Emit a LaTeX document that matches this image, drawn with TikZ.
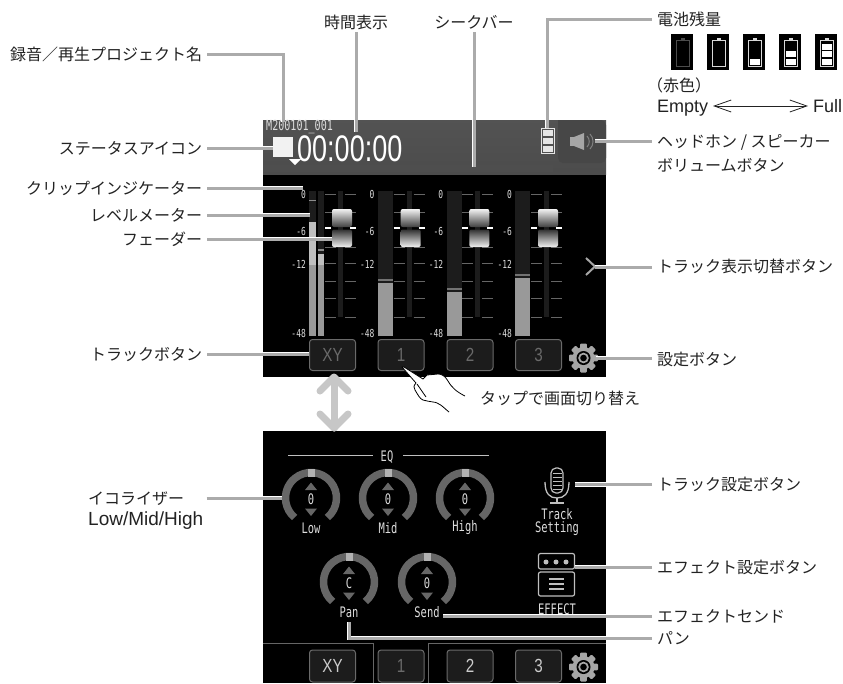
\documentclass[tikz,border=0pt]{standalone}
\usepackage{fontspec}
\setmainfont{Noto Sans CJK JP}
\newfontfamily\lcdfont[FakeStretch=0.72]{DejaVu Sans Mono}
\newfontfamily\timefont[FakeStretch=0.73]{Liberation Sans}
\newfontfamily\btnfont[FakeStretch=0.8]{Liberation Sans}
\newfontfamily\latinfont{Liberation Sans}
\usetikzlibrary{arrows.meta}
\definecolor{leadgray}{HTML}{ABABAB}
\definecolor{barcol}{HTML}{5C5C5C}
\definecolor{knobcol}{HTML}{666666}
\definecolor{meterbg}{HTML}{1C1C1C}
\definecolor{btnedge}{HTML}{6A6A6A}
\definecolor{lcdtext}{HTML}{DDDDDD}
\definecolor{labeltext}{HTML}{222222}
\begin{document}
\begin{tikzpicture}[x=1pt,y=-1pt,
    lbl/.style={inner xsep=5pt,inner ysep=2pt,outer sep=0pt,font=\fontsize{16}{24}\selectfont,
      text=labeltext,text height=14pt,text depth=2pt},
    leader/.style={draw=white,double=leadgray,double distance=3pt,line width=0.8pt},
    lcd/.style={inner sep=0pt,font=\lcdfont\fontsize{14.5}{15}\selectfont,text=lcdtext},
    db/.style={inner sep=0pt,anchor=east,font=\lcdfont\fontsize{11}{12}\selectfont,text=lcdtext},
    trackbtn/.style={draw=btnedge,fill=meterbg,rounded corners=3pt,line width=1pt,minimum width=46pt,
      minimum height=31pt,inner sep=0pt,font=\btnfont\fontsize{19}{20}\selectfont},
    scaletick/.style={draw=knobcol,line width=1pt}]
  \useasboundingbox (0,0) rectangle (843,683);

  %% upper screen
  \fill[black] (263,120) rectangle (606,377);
  \shade[top color=barcol!90!black,bottom color=barcol!110!white] (263,120) rectangle (606,174);
  \fill[barcol!85!black] (263,165) rectangle (553,172);
  \fill[black!72] (606,120) -- (558,120) -- (558,157) [rounded corners=5pt] -- (558,163) -- (606,163) -- cycle;

  \node[lcd,anchor=west,font=\lcdfont\fontsize{14}{15}\selectfont] (projname) at (266,126.5) {M200101\_001};
  \fill[white!95!black] (273,137) rectangle (293,157);
  \node[inner sep=0pt,anchor=west,text=white,font=\timefont\fontsize{37}{38}\selectfont] (timecode) at (297,148.5) {00:00:00};
  \fill[white] (289,159) -- (301,159) -- (295,165) -- cycle;

  %% battery in the bar
  \draw[white!90!black,line width=0.9pt] (541,128.5) rectangle (554,153);
  \fill[white!90!black] (542.5,130) rectangle (552.5,135.5);
  \fill[white!90!black] (542.5,137.5) rectangle (552.5,143.5);
  \fill[white!90!black] (542.5,145.5) rectangle (552.5,151.5);

  %% speaker
  \fill[black!35] (570,137) rectangle (574,146);
  \fill[black!35] (574,137) -- (584,133) -- (584,150) -- (574,146) -- cycle;
  \draw[black!50,line width=1pt] (587,136) .. controls (590,139) and (590,144) .. (587,147);
  \draw[black!50,line width=1pt] (590,134) .. controls (594,138) and (594,145) .. (590,149);

  %% meters
  \fill[meterbg] (309,191) rectangle (316,336);
  \fill[meterbg] (318,191) rectangle (324,336);
  \fill[black!25] (309,222) rectangle (316,265);
  \fill[black!40] (309,265) rectangle (316,336);
  \fill[black!45] (309,199.5) rectangle (316,201);
  \fill[black!25] (318,254) rectangle (324,265);
  \fill[black!40] (318,265) rectangle (324,336);
  \fill[black!45] (318,248.5) rectangle (324,250.5);
  \foreach \mx/\peak in {378/280,447/289,515/275}{
    \fill[meterbg] (\mx,191) rectangle (\mx+15,336);
    \fill[black!40] (\mx,\peak+3) rectangle (\mx+15,336);
    \fill[black!55] (\mx,\peak-1) rectangle (\mx+15,\peak+1);
  }

  %% faders and scales
  \foreach \tn/\tx in {0/0,1/68.7,2/137.3,3/206}{
    \begin{scope}[xshift=\tx pt]
      \fill[meterbg] (338,191) rectangle (343,317);
      \foreach \dy in {194,212,247,263.5,281,298,317}{
        \draw[scaletick] (325,\dy) -- (336,\dy);
        \draw[scaletick] (345,\dy) -- (356,\dy);
      }
      \node[db] (dbz\tn) at (306,194) {0};
      \node[db] (dbs\tn) at (306,231) {-6};
      \node[db] (dbt\tn) at (306,264) {-12};
      \node[db] (dbf\tn) at (306,333) {-48};
      \shade[top color=black!5,bottom color=black!75,rounded corners=2pt] (332,209) rectangle (352,227);
      \shade[top color=black!80,bottom color=black!5,rounded corners=2pt] (332,229.5) rectangle (352,247);
      \draw[white,line width=1.2pt] (325,228) -- (331,228);
      \draw[white,line width=1.2pt] (350,228) -- (356,228);
    \end{scope}
  }

  %% track buttons, upper
  \node[trackbtn,text=btnedge] (btnxy) at (332.5,355) {XY};
  \node[trackbtn,text=btnedge] (btnone) at (401,355) {1};
  \node[trackbtn,text=btnedge] (btntwo) at (470,355) {2};
  \node[trackbtn,text=btnedge] (btnthree) at (538.5,355) {3};

  %% gear, upper
  \begin{scope}[shift={(583.5,358)},y=1pt]
    \fill[black!35] (0,0) circle (11);
    \foreach \a in {0,45,...,315}{
      \fill[black!35,rotate=\a,rounded corners=1pt] (-3.3,8) rectangle (3.3,14.5);
    }
    \fill[black] (0,0) circle (7);
    \fill[black!35] (0,0) circle (5.3);
    \fill[black] (0,0) circle (3.3);
  \end{scope}

  %% next chevron
  \draw[black!35,line width=2pt] (586,258) -- (595,266.5) -- (586,275);

  %% hand
  \draw[fill=white,draw=black,line width=0.8pt,line join=round] (465,396) .. controls (457,392) and (452,388) .. (448,381)
    .. controls (445,376) and (442,374) .. (438,374) -- (427,375) -- (423,379) -- (404,367) -- (402,367) -- (416,383)
    .. controls (413,386) and (414,388) .. (415,390) .. controls (418,395) and (420,399) .. (423,400)
    .. controls (430,402) and (436,402) .. (437,403) .. controls (442,405) and (445,409) .. (449,412);
  \draw[black,line width=0.8pt] (417,384) -- (426,397);

  %% lower screen
  \fill[black] (263,431) rectangle (606,683);
  \node[lcd,text=white!85!black] (eqtitle) at (387,457) {EQ};
  \draw[black!25,line width=1pt] (288,455) -- (373,455);
  \draw[black!25,line width=1pt] (403,455) -- (489,455);

  \foreach \kx/\ky/\kv/\kl in {311/498/0/Low,388/498/0/Mid,465/498/0/High,349/582/C/Pan,427/582/0/Send}{
    \begin{scope}[shift={(\kx,\ky)},y=1pt]
      \draw[knobcol,line width=7.5pt] (-50:25.5) arc[start angle=-50,end angle=230,radius=25.5];
      \fill[black!30] (-3.5,21.5) rectangle (3.5,29.5);
      \fill[knobcol] (-6,8) -- (6,8) -- (0,15.5) -- cycle;
      \fill[knobcol] (-6,-10.5) -- (6,-10.5) -- (0,-18) -- cycle;
    \end{scope}
    \node[lcd] (val\kl) at (\kx,\ky+1) {\kv};
    \node[lcd] (name\kl) at (\kx,\ky+30) {\kl};
  }

  %% track setting icon
  \draw[black!25,line width=1.2pt,fill=black] (551,468) [rounded corners=5pt] -- (563,468) -- (563,493) -- (551,493) -- cycle;
  \foreach \gy in {473,477,481,485,489}{
    \draw[black!25,line width=0.8pt] (552.5,\gy) -- (561.5,\gy);
  }
  \draw[black!25,line width=1.3pt] (545,482) .. controls (545,494) and (550,498) .. (557,498)
    .. controls (564,498) and (569,494) .. (569,482);
  \draw[black!25,line width=1.3pt] (557,498) -- (557,503);
  \draw[black!25,line width=1.3pt] (550,503) -- (564,503);
  \node[lcd,align=center,font=\lcdfont\fontsize{14.5}{13}\selectfont] (tracktxt) at (557,522.5) {Track\\Setting};

  %% effect icon
  \draw[black!25,line width=1.2pt,rounded corners=2pt] (538.5,553.5) rectangle (574.5,569);
  \foreach \dx in {546,556,566}{
    \fill[black!25] (\dx,562) circle (2.5);
  }
  \draw[black!25,line width=1.2pt,rounded corners=2pt] (538.5,572) rectangle (574.5,596);
  \foreach \ly in {579,584,589}{
    \draw[black!25,line width=1.2pt] (549,\ly) -- (564,\ly);
  }
  \node[lcd] (effecttxt) at (557,609) {EFFECT};

  %% tabs and lower buttons
  \draw[knobcol,line width=1pt] (263,643) -- (373,643) -- (373,683);
  \draw[knobcol,line width=1pt] (428,683) -- (428,643) -- (606,643);
  \node[trackbtn,text=white!80!black,minimum height=32pt] (lowxy) at (332.5,666) {XY};
  \node[trackbtn,text=btnedge,minimum height=32pt] (lowone) at (401,666) {1};
  \node[trackbtn,text=white!80!black,minimum height=32pt] (lowtwo) at (470,666) {2};
  \node[trackbtn,text=white!80!black,minimum height=32pt] (lowthree) at (538.5,666) {3};
  \begin{scope}[shift={(583.5,667)},y=1pt]
    \fill[black!35] (0,0) circle (11);
    \foreach \a in {0,45,...,315}{
      \fill[black!35,rotate=\a,rounded corners=1pt] (-3.3,8) rectangle (3.3,14.5);
    }
    \fill[black] (0,0) circle (7);
    \fill[black!35] (0,0) circle (5.3);
    \fill[black] (0,0) circle (3.3);
  \end{scope}

  %% big double arrow
  \draw[black!22,line width=7pt,line cap=round,line join=round] (334,378) -- (334,428);
  \draw[black!22,line width=7pt,line cap=round,line join=round] (320,391) -- (334,377) -- (348,391);
  \draw[black!22,line width=7pt,line cap=round,line join=round] (320,414) -- (334,428) -- (348,414);

  %% labels left
  \node[lbl,anchor=east] (lblproj) at (207,54) {録音／再生プロジェクト名};
  \node[lbl,anchor=east] (lblstatus) at (207,148) {ステータスアイコン};
  \node[lbl,anchor=east] (lblclip) at (207,188) {クリップインジケーター};
  \node[lbl,anchor=east] (lbllevel) at (207,215) {レベルメーター};
  \node[lbl,anchor=east] (lblfader) at (207,239) {フェーダー};
  \node[lbl,anchor=east] (lbltrack) at (207,354) {トラックボタン};
  \node[anchor=west,inner xsep=3pt,inner ysep=0pt,align=left,text=labeltext,font=\fontsize{16}{21}\selectfont] (lbleq) at (85,511) {イコライザー\\{\latinfont\fontsize{19}{21}\selectfont Low/Mid/High}};

  %% labels top
  \node[lbl] (lbltime) at (356,22) {時間表示};
  \node[lbl] (lblseek) at (474,22) {シークバー};

  %% labels right
  \node[lbl,anchor=west] (lblbatt) at (652,19) {電池残量};
  \node[lbl,anchor=west] (lblred) at (642,85) {（赤色）};
  \node[lbl,anchor=west,font=\latinfont\fontsize{18}{21}\selectfont] (lblempty) at (652,106) {Empty};
  \node[lbl,anchor=west,font=\latinfont\fontsize{18}{21}\selectfont] (lblfull) at (808,106) {Full};
  \node[anchor=west,inner xsep=5pt,inner ysep=0pt,align=left,text=labeltext,font=\fontsize{16}{24}\selectfont] (lblhead) at (652,153) {ヘッドホン / スピーカー\\ボリュームボタン};
  \node[lbl,anchor=west] (lblnext) at (652,266) {トラック表示切替ボタン};
  \node[lbl,anchor=west] (lblset) at (652,359) {設定ボタン};
  \node[lbl,anchor=west] (lbltap) at (475,398) {タップで画面切り替え};
  \node[lbl,anchor=west] (lbltset) at (652,484) {トラック設定ボタン};
  \node[lbl,anchor=west] (lblfxset) at (652,567) {エフェクト設定ボタン};
  \node[lbl,anchor=west] (lblsend) at (652,616) {エフェクトセンド};
  \node[lbl,anchor=west] (lblpan) at (652,638) {パン};

  %% battery levels
  \foreach \bx/\bn in {671/0,707/1,743/2,779/3,815/4}{
    \fill[black] (\bx,34) rectangle (\bx+22,70);
    \ifnum\bn=0
      \draw[black!70,line width=0.9pt] (\bx+5.5,40) rectangle (\bx+18,66);
      \fill[black!70] (\bx+9.5,37.5) rectangle (\bx+14,40);
    \else
      \draw[white!85!black,line width=0.9pt] (\bx+5.5,40) rectangle (\bx+18,66);
      \fill[white!85!black] (\bx+9.5,37.5) rectangle (\bx+14,40);
    \fi
    \ifnum\bn>1 \fill[white] (\bx+7,58.5) rectangle (\bx+16.5,64.5); \fi
    \ifnum\bn>2 \fill[white] (\bx+7,51) rectangle (\bx+16.5,57); \fi
    \ifnum\bn>3 \fill[white] (\bx+7,43.5) rectangle (\bx+16.5,49.5); \fi
  }
  \draw[{Straight Barb[length=17pt,width=12pt]}-{Straight Barb[length=17pt,width=12pt]},line width=0.8pt,labeltext] (lblempty.east) -- (lblfull.west);

  %% leader ends
  \coordinate (endproj) at (283,122);
  \coordinate (endstatus) at (273,148);
  \coordinate (endclip) at (303,188);
  \coordinate (endlevel) at (310,215);
  \coordinate (endfader) at (332,239);
  \coordinate (endtrack) at (309,354);
  \coordinate (endeq) at (282,498);
  \coordinate (endtime) at (356,132);
  \coordinate (endseek) at (474,167);
  \coordinate (endbatt) at (547,128);
  \coordinate (endhead) at (595,141);
  \coordinate (endnext) at (595,267);
  \coordinate (endset) at (596,358);
  \coordinate (endtset) at (575,484.5);
  \coordinate (endfxset) at (575,567);
  \coordinate (endsend) at (443,616);
  \coordinate (endpan) at (349,622);

  %% leaders
  \draw[leader] (lblproj.east) -| (endproj);
  \draw[leader] (lblstatus.east) -- (endstatus);
  \draw[leader] (lblclip.east) -- (endclip);
  \draw[leader] (lbllevel.east) -- (endlevel);
  \draw[leader] (lblfader.east) -- (endfader);
  \draw[leader] (lbltrack.east) -- (endtrack);
  \draw[leader] (lbleq.east |- endeq) -- (endeq);
  \draw[leader] (lbltime.south) -- (endtime);
  \draw[leader] (lblseek.south) -- (endseek);
  \draw[leader] (lblbatt.west) -| (endbatt);
  \draw[leader] (lblhead.west |- endhead) -- (endhead);
  \draw[leader] (lblnext.west |- endnext) -- (endnext);
  \draw[leader] (lblset.west |- endset) -- (endset);
  \draw[leader] (lbltset.west |- endtset) -- (endtset);
  \draw[leader] (lblfxset.west) -- (endfxset);
  \draw[leader] (lblsend.west) -- (endsend);
  \draw[leader] (lblpan.west) -| (endpan);
\end{tikzpicture}
\end{document}
